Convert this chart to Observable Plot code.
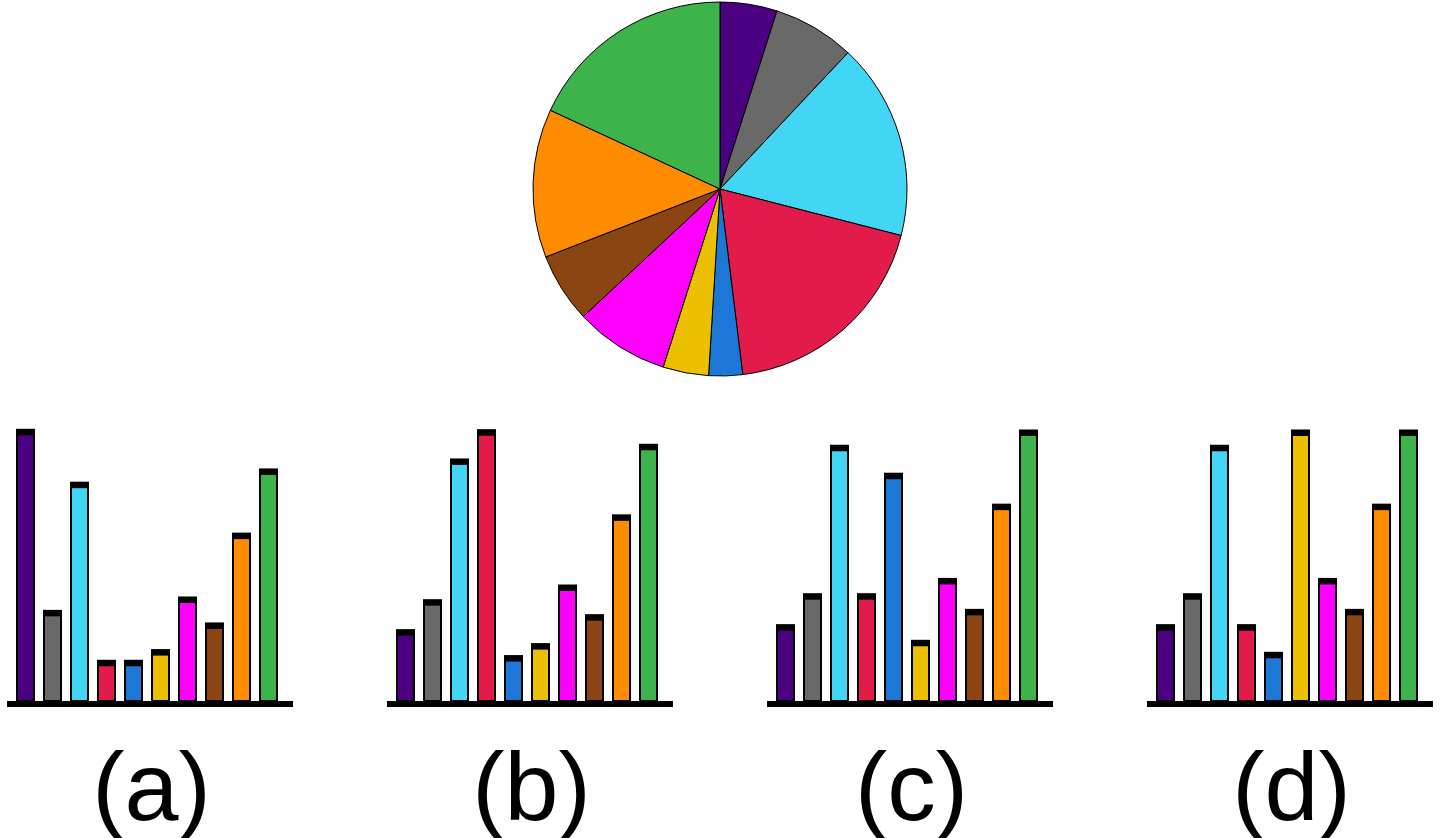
<!DOCTYPE html>
<html><head><meta charset="utf-8">
<script src="https://cdn.jsdelivr.net/npm/d3@7"></script>
<script src="https://cdn.jsdelivr.net/npm/@observablehq/plot@0.6"></script>
<style>
html,body{margin:0;padding:0;background:#fff;width:1440px;height:838px;overflow:hidden;position:relative;font-family:"Liberation Sans",Arial,sans-serif;}
.abs{position:absolute;}
.abs svg{display:block;}
.label{position:absolute;width:300px;text-align:center;font-size:97px;line-height:1;color:#000;top:738px;font-family:"Liberation Sans",Arial,sans-serif;}
</style></head><body>
<div id="pie" class="abs" style="left:530px;top:-1px"></div>
<div id="bars"></div>
<script>
const categories = ["indigo","gray","sky","crimson","blue","gold","magenta","brown","orange","green"];
const colors = ["#4b0082","#696969","#42d6f4","#e31b4b","#1c77d6","#ebc000","#ff00ff","#8b4513","#ff8c00","#3db34c"];
const pieValues = [17.75,25.45,61.2,68.6,10.5,14.2,29.3,21.7,46.2,65.1];
const barsA = [271.7,90.3,218.7,40.3,40.3,51,103.7,77.7,167.7,232];
const barsB = [71,101,242,271.3,45,57,115.7,86,186,256.7];
const barsC = [76,107,255.7,107,227.7,60.3,122.3,91.3,196.7,271];
const barsD = [76,107,255.7,76,48.3,271,122.3,91.3,196.7,271];
const panelLabels = ["(a)","(b)","(c)","(d)"];

// Pie
const pieData = categories.map((c,i)=>({cat:c, value:pieValues[i], color:colors[i]}));
const arcs = d3.pie().sort(null).value(d=>d.value)(pieData);
function pieMark(index, scales, values, dims) {
  let cx, cy, r;
  if (scales && scales.x && scales.y) {
    cx = scales.x(0); cy = scales.y(0); r = Math.abs(scales.x(1) - scales.x(0));
  } else {
    const w = dims.width - dims.marginLeft - dims.marginRight;
    const h = dims.height - dims.marginTop - dims.marginBottom;
    cx = dims.marginLeft + w/2; cy = dims.marginTop + h/2; r = Math.min(w,h)/2;
  }
  const arc = d3.arc().innerRadius(0).outerRadius(r);
  const g = d3.create("svg:g").attr("transform", `translate(${cx},${cy})`);
  g.selectAll("path").data(arcs).join("path")
    .attr("d", arc).attr("fill", d=>d.data.color)
    .attr("stroke","#000").attr("stroke-width",1).attr("stroke-linejoin","round");
  return g.node();
}
const pie = Plot.plot({
  width:380, height:380, margin:3,
  x:{domain:[-1,1], axis:null}, y:{domain:[-1,1], axis:null},
  marks:[pieMark]
});
document.getElementById("pie").appendChild(pie);

// Bars
const barSets = [barsA, barsB, barsC, barsD];
const host = document.getElementById("bars");
barSets.forEach((vals, k) => {
  const data = categories.map((c,i)=>({cat:c, value:vals[i], color:colors[i]}));
  const chart = Plot.plot({
    width:300, height:290, marginLeft:7, marginRight:7, marginTop:9.5, marginBottom:9,
    x:{domain:categories, paddingInner:0.287, paddingOuter:0.424, align:0.39, axis:null},
    y:{domain:[0,272], axis:null},
    color:{type:"identity"},
    marks:[
      Plot.barY(data, {x:"cat", y:"value", fill:"color", stroke:"#000", strokeWidth:2, insetLeft:1, insetRight:1}),
      Plot.tickY(data, {x:"cat", y:"value", stroke:"#000", strokeWidth:5, dy:2.5}),
      Plot.ruleY([0], {stroke:"#000", strokeWidth:6, dy:2.5})
    ]
  });
  const div = document.createElement("div");
  div.className = "abs";
  div.style.left = (380*k) + "px";
  div.style.top = "420px";
  div.appendChild(chart);
  host.appendChild(div);
  const lab = document.createElement("div");
  lab.className = "label";
  lab.style.left = (380*k + 1.5) + "px";
  lab.textContent = panelLabels[k];
  host.appendChild(lab);
});
</script>
</body></html>
